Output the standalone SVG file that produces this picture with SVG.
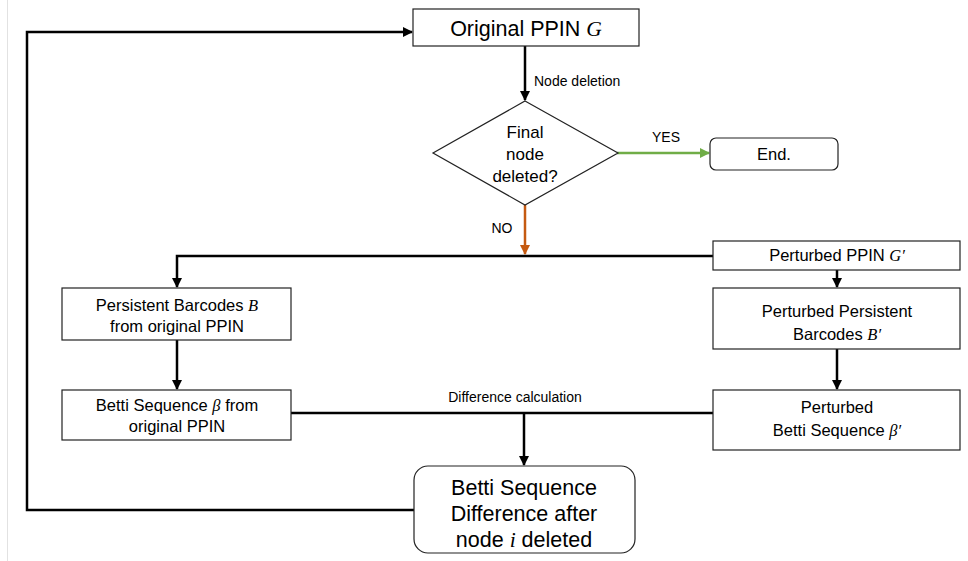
<svg xmlns="http://www.w3.org/2000/svg" width="968" height="561" viewBox="0 0 968 561">
<defs>
<style>
.box{fill:#fff;stroke:#222;stroke-width:1.2}
.t{font-family:"Liberation Sans",Arial,sans-serif;fill:#000;text-anchor:middle}
.m{font-family:"Liberation Serif","Times New Roman",serif;font-style:italic}
.ln{fill:none;stroke:#000;stroke-width:2.5}
.lbl{font-family:"Liberation Sans",Arial,sans-serif;font-size:14px;fill:#000}
.s{font-size:16.5px}
.b{font-size:21.5px}
</style>
<marker id="ab" viewBox="0 0 10 10" refX="9" refY="5" markerWidth="4" markerHeight="4" orient="auto" markerUnits="strokeWidth"><path d="M0,0 L10,5 L0,10 z" fill="#000"/></marker>
<marker id="ag" viewBox="0 0 10 10" refX="9" refY="5" markerWidth="4" markerHeight="4" orient="auto" markerUnits="strokeWidth"><path d="M0,0 L10,5 L0,10 z" fill="#70ad47"/></marker>
<marker id="ao" viewBox="0 0 10 10" refX="9" refY="5" markerWidth="4" markerHeight="4" orient="auto" markerUnits="strokeWidth"><path d="M0,0 L10,5 L0,10 z" fill="#c55a11"/></marker>
</defs>
<rect width="968" height="561" fill="#fff"/>
<line x1="7.5" y1="0" x2="7.5" y2="561" stroke="#e2e2e2" stroke-width="1"/>

<g id="connectors">
<line class="ln" x1="525" y1="46" x2="525" y2="100" marker-end="url(#ab)"/>
<text class="lbl" x="534" y="86">Node deletion</text>
<line x1="617" y1="153" x2="709" y2="153" stroke="#70ad47" stroke-width="2.5" marker-end="url(#ag)"/>
<text class="lbl" x="666" y="142" text-anchor="middle">YES</text>
<line x1="525" y1="205" x2="525" y2="254" stroke="#c55a11" stroke-width="2.5" marker-end="url(#ao)"/>
<text class="lbl" x="502" y="233" text-anchor="middle">NO</text>
<polyline class="ln" points="713,256 177,256 177,287" marker-end="url(#ab)"/>
<line class="ln" x1="837" y1="270" x2="837" y2="287" marker-end="url(#ab)"/>
<line class="ln" x1="837" y1="349" x2="837" y2="389" marker-end="url(#ab)"/>
<line class="ln" x1="177" y1="340" x2="177" y2="389" marker-end="url(#ab)"/>
<line class="ln" x1="291" y1="413" x2="713" y2="413"/>
<text class="lbl" x="515" y="402" text-anchor="middle">Difference calculation</text>
<line class="ln" x1="524" y1="413" x2="524" y2="465" marker-end="url(#ab)"/>
<polyline class="ln" points="414,510 27,510 27,32 412,32" marker-end="url(#ab)"/>
</g>

<g id="original">
<rect class="box" x="413" y="9" width="226" height="37"/>
<text class="t b" x="526" y="36">Original PPIN <tspan class="m">G</tspan></text>
</g>
<g id="decision">
<polygon class="box" points="525,101 618,153 525,205 433,153"/>
<text class="t" x="525" y="138" font-size="17">Final</text>
<text class="t" x="525" y="160" font-size="17">node</text>
<text class="t" x="525" y="182" font-size="17">deleted?</text>
</g>
<g id="end">
<rect class="box" x="710" y="138" width="128" height="32" rx="6"/>
<text class="t" x="774" y="160" font-size="16.5">End.</text>
</g>
<g id="perturbed-ppin">
<rect class="box" x="713" y="241" width="247" height="29"/>
<text class="t s" x="837" y="261">Perturbed PPIN <tspan class="m">G′</tspan></text>
</g>
<g id="perturbed-barcodes">
<rect class="box" x="713" y="288" width="247" height="61"/>
<text class="t s" x="837" y="317">Perturbed Persistent</text>
<text class="t s" x="837" y="340">Barcodes <tspan class="m">B′</tspan></text>
</g>
<g id="perturbed-betti">
<rect class="box" x="713" y="390" width="247" height="60"/>
<text class="t s" x="837" y="413">Perturbed</text>
<text class="t s" x="837" y="436">Betti Sequence  <tspan class="m">β′</tspan></text>
</g>
<g id="barcodes">
<rect class="box" x="62" y="288" width="229" height="52"/>
<text class="t s" x="177" y="311">Persistent Barcodes <tspan class="m">B</tspan></text>
<text class="t s" x="177" y="332">from original PPIN</text>
</g>
<g id="betti">
<rect class="box" x="62" y="390" width="229" height="50"/>
<text class="t s" x="177" y="411">Betti Sequence <tspan class="m">β</tspan> from</text>
<text class="t s" x="177" y="432">original PPIN</text>
</g>
<g id="difference">
<rect class="box" x="414" y="466" width="221" height="87" rx="14"/>
<text class="t b" x="524" y="495">Betti Sequence</text>
<text class="t b" x="524" y="521">Difference after</text>
<text class="t b" x="524" y="547">node <tspan class="m">i</tspan> deleted</text>
</g>
</svg>
